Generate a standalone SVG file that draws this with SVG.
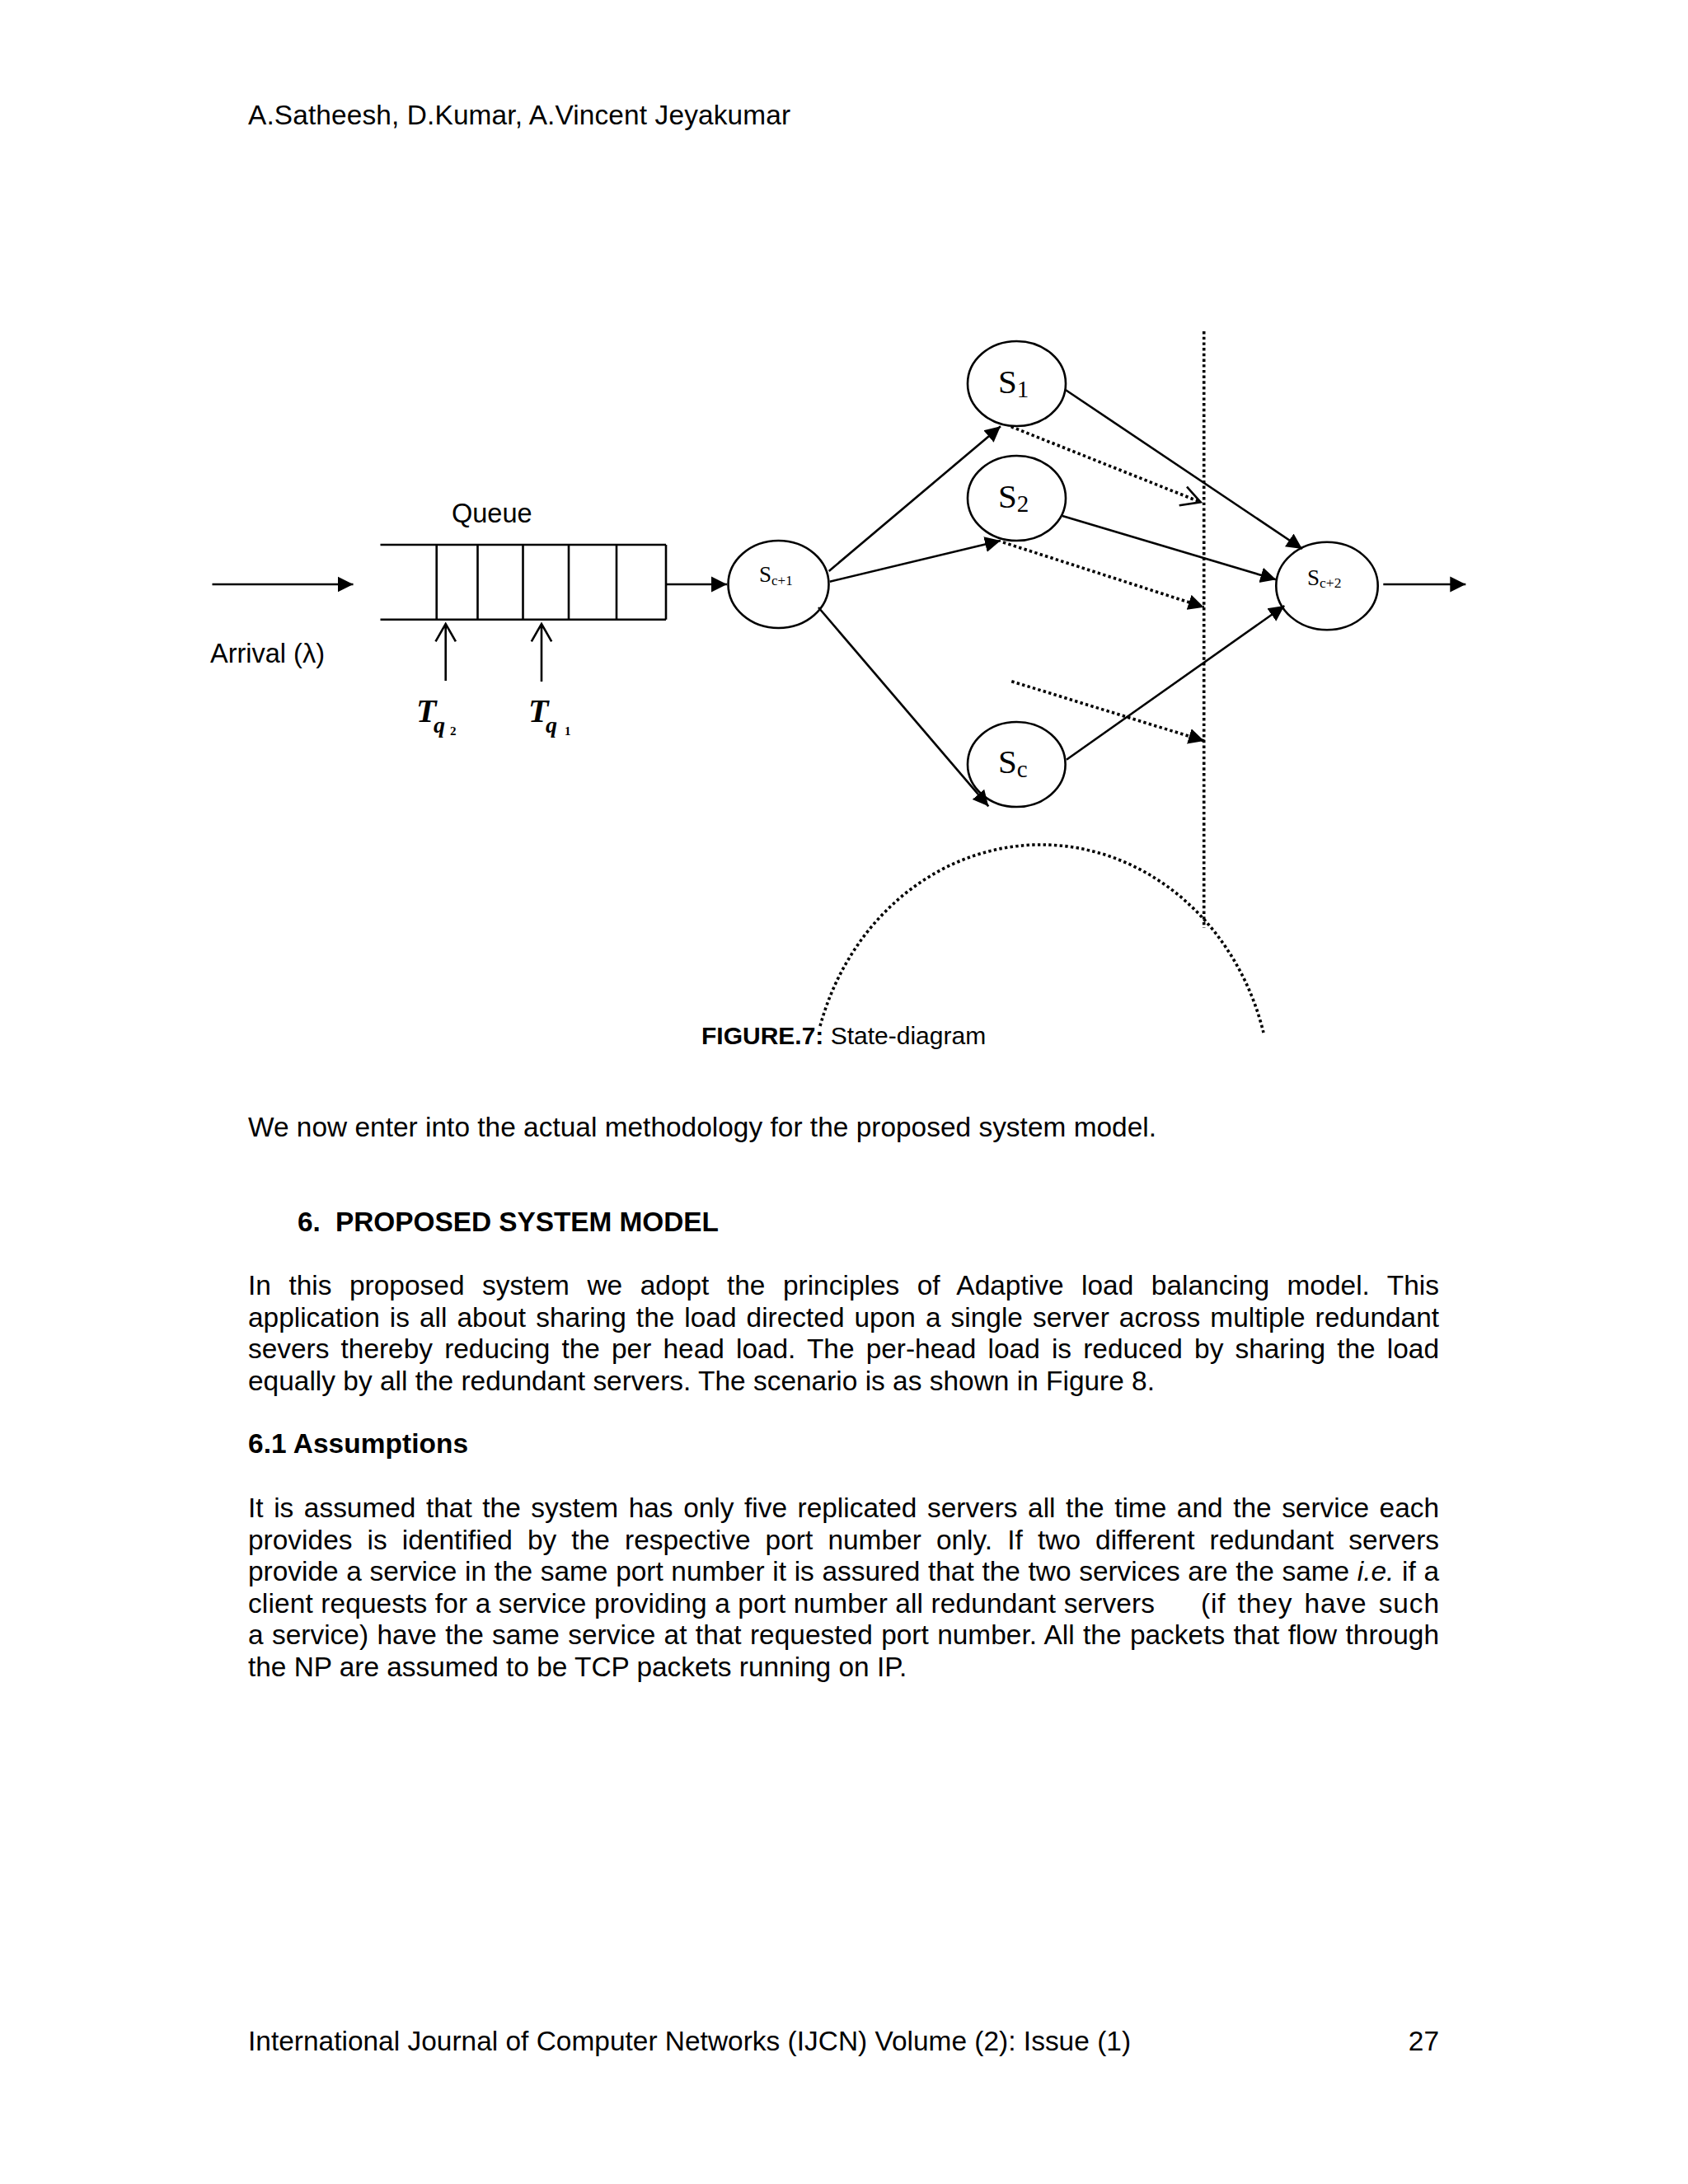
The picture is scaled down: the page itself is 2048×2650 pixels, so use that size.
<svg xmlns="http://www.w3.org/2000/svg" width="2048" height="2650" viewBox="0 0 2048 2650">
<style>
.t{font-family:"Liberation Sans",Arial,Helvetica,sans-serif;font-size:33.4px;fill:#000}
.d{font-family:"Liberation Sans",Arial,Helvetica,sans-serif;font-size:32.5px;fill:#000}
.b{font-weight:bold}
.lbl{font-family:"Liberation Serif","Times New Roman",serif;fill:#000}
.tq{font-family:"Liberation Serif","Times New Roman",serif;font-style:italic;font-weight:bold;fill:#000}
.node{fill:#fff;stroke:#000;stroke-width:2.6}
.ln{stroke:#000;stroke-width:2.6;fill:none}
.dot{stroke:#000;stroke-width:3.6;fill:none;stroke-dasharray:3.4 3.3}
</style>
<defs>
<marker id="ah" markerUnits="userSpaceOnUse" markerWidth="20" markerHeight="20" viewBox="0 0 20 20" refX="19" refY="10" orient="auto"><path d="M0,0.5 L19,10 L0,19.5 z" fill="#000"/></marker>
</defs>
<rect width="2048" height="2650" fill="#fff"/>

<text class="t" x="301" y="151" textLength="658" lengthAdjust="spacing">A.Satheesh, D.Kumar, A.Vincent Jeyakumar</text>

<g id="queue">
<text class="d" x="548" y="634">Queue</text>
<path class="ln" d="M461.5,661 H808 M461.5,751.7 H808 M529.7,661 V751.7 M579.5,661 V751.7 M634.5,661 V751.7 M690,661 V751.7 M748,661 V751.7 M808,661 V751.7"/>
</g>
<g id="arrival-label"><text class="d" x="255" y="804">Arrival (λ)</text></g>
<g id="tq2">
<path class="ln" d="M540.7,826 V757 M528.5,778.3 L540.7,757 L552.9,778.3"/>
<text class="tq" x="505" y="876" font-size="40">T<tspan x="526" dy="13" font-size="28">q</tspan><tspan x="546" dy="3" font-size="15" font-style="normal">2</tspan></text>
</g>
<g id="tq1">
<path class="ln" d="M657,827 V757 M644.8,778.3 L657,757 L669.2,778.3"/>
<text class="tq" x="641" y="876" font-size="40">T<tspan x="662" dy="13" font-size="28">q</tspan><tspan x="685" dy="3" font-size="15" font-style="normal">1</tspan></text>
</g>

<g id="node-sc1">
<ellipse class="node" cx="944.5" cy="709" rx="61" ry="53"/>
<text class="lbl" x="921" y="706" font-size="27">S<tspan font-size="17" dy="4">c+1</tspan></text>
</g>
<g id="node-s1">
<ellipse class="node" cx="1233.5" cy="465.5" rx="59.5" ry="51.5"/>
<text class="lbl" x="1211" y="477" font-size="41">S<tspan font-size="29" dy="5">1</tspan></text>
</g>
<g id="node-s2">
<ellipse class="node" cx="1233.5" cy="604.5" rx="59.5" ry="51.5"/>
<text class="lbl" x="1211" y="616" font-size="41">S<tspan font-size="29" dy="5">2</tspan></text>
</g>
<g id="node-sc">
<ellipse class="node" cx="1233.3" cy="927.5" rx="59.3" ry="51.5"/>
<text class="lbl" x="1211" y="938" font-size="41">S<tspan font-size="29" dy="5">c</tspan></text>
</g>
<g id="node-sc2">
<ellipse class="node" cx="1610" cy="711" rx="61.7" ry="53.2"/>
<text class="lbl" x="1586" y="710" font-size="27">S<tspan font-size="17.5" dy="3">c+2</tspan></text>
</g>

<g id="connectors">
<line class="ln" x1="257.5" y1="709" x2="428.5" y2="709" marker-end="url(#ah)"/>
<line class="ln" x1="808" y1="709" x2="882" y2="709" marker-end="url(#ah)"/>
<line class="ln" x1="1005.7" y1="693" x2="1214" y2="517.3" marker-end="url(#ah)"/>
<line class="ln" x1="1006.7" y1="705.7" x2="1214" y2="656" marker-end="url(#ah)"/>
<line class="ln" x1="993" y1="737" x2="1199.3" y2="978.3" marker-end="url(#ah)"/>
<line class="ln" x1="1292.7" y1="473" x2="1580" y2="666" marker-end="url(#ah)"/>
<line class="ln" x1="1289" y1="626" x2="1548.3" y2="703.3" marker-end="url(#ah)"/>
<line class="ln" x1="1294" y1="921.7" x2="1558.3" y2="735" marker-end="url(#ah)"/>
<line class="ln" x1="1678.3" y1="709" x2="1778.3" y2="709" marker-end="url(#ah)"/>
<line class="dot" x1="1226.7" y1="517.7" x2="1456.7" y2="609.3"/>
<polyline class="ln" stroke-width="3" points="1440,590.7 1456.7,609.3 1430.7,613.3"/>
<line class="dot" x1="1217" y1="658" x2="1460.7" y2="736.7" marker-end="url(#ah)"/>
<line class="dot" x1="1227.3" y1="826.7" x2="1461" y2="899" marker-end="url(#ah)"/>
<line class="dot" x1="1460.7" y1="402" x2="1460.7" y2="1126"/>
<path class="dot" d="M995,1245 A280,310 0 0 1 1533,1253"/>
</g>

<text class="t" x="851" y="1267" style="font-size:30px"><tspan class="b">FIGURE.7:</tspan> State-diagram</text>

<text class="t" x="301" y="1379" textLength="1102" lengthAdjust="spacing">We now enter into the actual methodology for the proposed system model.</text>
<text class="t b" x="361" y="1494">6.</text>
<text class="t b" x="407" y="1494" textLength="465" lengthAdjust="spacing">PROPOSED SYSTEM MODEL</text>

<text class="t" x="301" y="1571" word-spacing="12.2" textLength="1445" lengthAdjust="spacing">In this proposed system we adopt the principles of Adaptive load balancing model. This</text>
<text class="t" x="301" y="1609.5" word-spacing="2.8" textLength="1445" lengthAdjust="spacing">application is all about sharing the load directed upon a single server across multiple redundant</text>
<text class="t" x="301" y="1648" word-spacing="4.9" textLength="1445" lengthAdjust="spacing">severs thereby reducing the per head load. The per-head load is reduced by sharing the load</text>
<text class="t" x="301" y="1686.5" textLength="1100" lengthAdjust="spacing">equally by all the redundant servers. The scenario is as shown in Figure 8.</text>

<text class="t b" x="301" y="1763" textLength="267" lengthAdjust="spacing">6.1 Assumptions</text>

<text class="t" x="301" y="1841" word-spacing="3.3" textLength="1445" lengthAdjust="spacing">It is assumed that the system has only five replicated servers all the time and the service each</text>
<text class="t" x="301" y="1879.5" word-spacing="8.8" textLength="1445" lengthAdjust="spacing">provides is identified by the respective port number only. If two different redundant servers</text>
<text class="t" x="301" y="1918" word-spacing="0.4" textLength="1445" lengthAdjust="spacing">provide a service in the same port number it is assured that the two services are the same <tspan font-style="italic">i.e.</tspan> if a</text>
<text class="t" x="301" y="1956.5" textLength="1100" lengthAdjust="spacing">client requests for a service providing a port number all redundant servers</text>
<text class="t" x="1457" y="1956.5" word-spacing="4" textLength="289" lengthAdjust="spacing">(if they have such</text>
<text class="t" x="301" y="1995" word-spacing="1" textLength="1445" lengthAdjust="spacing">a service) have the same service at that requested port number. All the packets that flow through</text>
<text class="t" x="301" y="2033.5">the NP are assumed to be TCP packets running on IP.</text>

<text class="t" x="301" y="2488" textLength="1071" lengthAdjust="spacing">International Journal of Computer Networks (IJCN) Volume (2): Issue (1)</text>
<text class="t" x="1746" y="2488" text-anchor="end">27</text>
</svg>
